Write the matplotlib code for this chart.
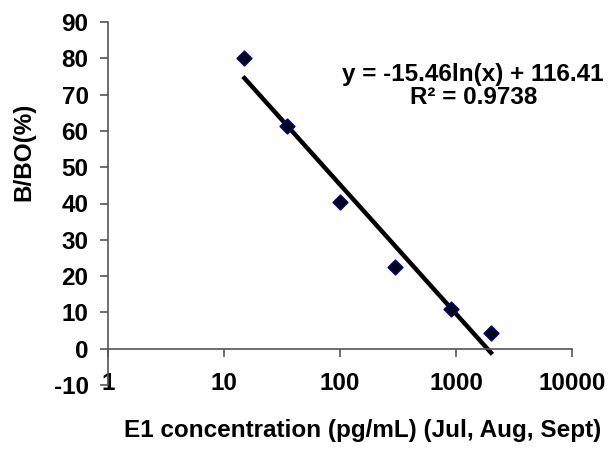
import matplotlib
matplotlib.use("Agg")
import matplotlib.pyplot as plt
import numpy as np

# data
conc = [15, 35, 100, 300, 900, 2000]
bbo = [80, 61.3, 40.5, 22.5, 10.9, 4.4]
slope = -15.46
intercept = 116.41
r2 = 0.9738

x_ticks = [1, 10, 100, 1000, 10000]
y_ticks = list(range(-10, 100, 10))

plt.rcParams['font.family'] = ['Liberation Sans', 'DejaVu Sans']
plt.rcParams['font.weight'] = 'bold'
plt.rcParams['axes.unicode_minus'] = False

fig = plt.figure(figsize=(6.08, 4.49), dpi=100)
ax = fig.add_axes([108 / 608, 1 - 385 / 449, (572 - 108) / 608, (385 - 22) / 449])

ax.scatter(conc, bbo, marker='D', s=55, facecolor='#000010', edgecolor='#000080',
           linewidth=1.2, zorder=3)

# log trendline over the range of the data
xt = np.array([min(conc), max(conc)])
ax.plot(xt, slope * np.log(xt) + intercept, color='black', lw=3.2, zorder=2)

ax.set_xscale('log')
ax.set_xlim(1, 10000)
ax.set_ylim(-10, 90)
ax.set_xticks(x_ticks)
ax.set_xticklabels([str(v) for v in x_ticks])
ax.minorticks_off()
ax.set_yticks(y_ticks)

ax.spines['top'].set_visible(False)
ax.spines['right'].set_visible(False)
ax.spines['bottom'].set_position(('data', 0))
for s in ['left', 'bottom']:
    ax.spines[s].set_color('#555555')
    ax.spines[s].set_linewidth(1.2)

ax.tick_params(axis='both', direction='out', length=6, width=1.2, color='#555555',
               labelsize=17.5)
ax.tick_params(axis='x', pad=11)
ax.tick_params(axis='y', pad=8)

fig.text(473 / 608, 1 - 74 / 449, "y = %.2fln(x) + %.2f" % (slope, intercept),
         ha='center', va='center', fontsize=17.5, fontweight='bold')
fig.text(474 / 608, 1 - 98 / 449, "R² = %.4f" % r2,
         ha='center', va='center', fontsize=17.5, fontweight='bold')

fig.text(363 / 608, 1 - 431 / 449, "E1 concentration (pg/mL) (Jul, Aug, Sept)",
         ha='center', va='center', fontsize=17.5, fontweight='bold')
fig.text(24 / 608, 1 - 152 / 449, "B/BO(%)", rotation=90,
         ha='center', va='center', fontsize=17.5, fontweight='bold')

fig.savefig("out.png", dpi=100)
